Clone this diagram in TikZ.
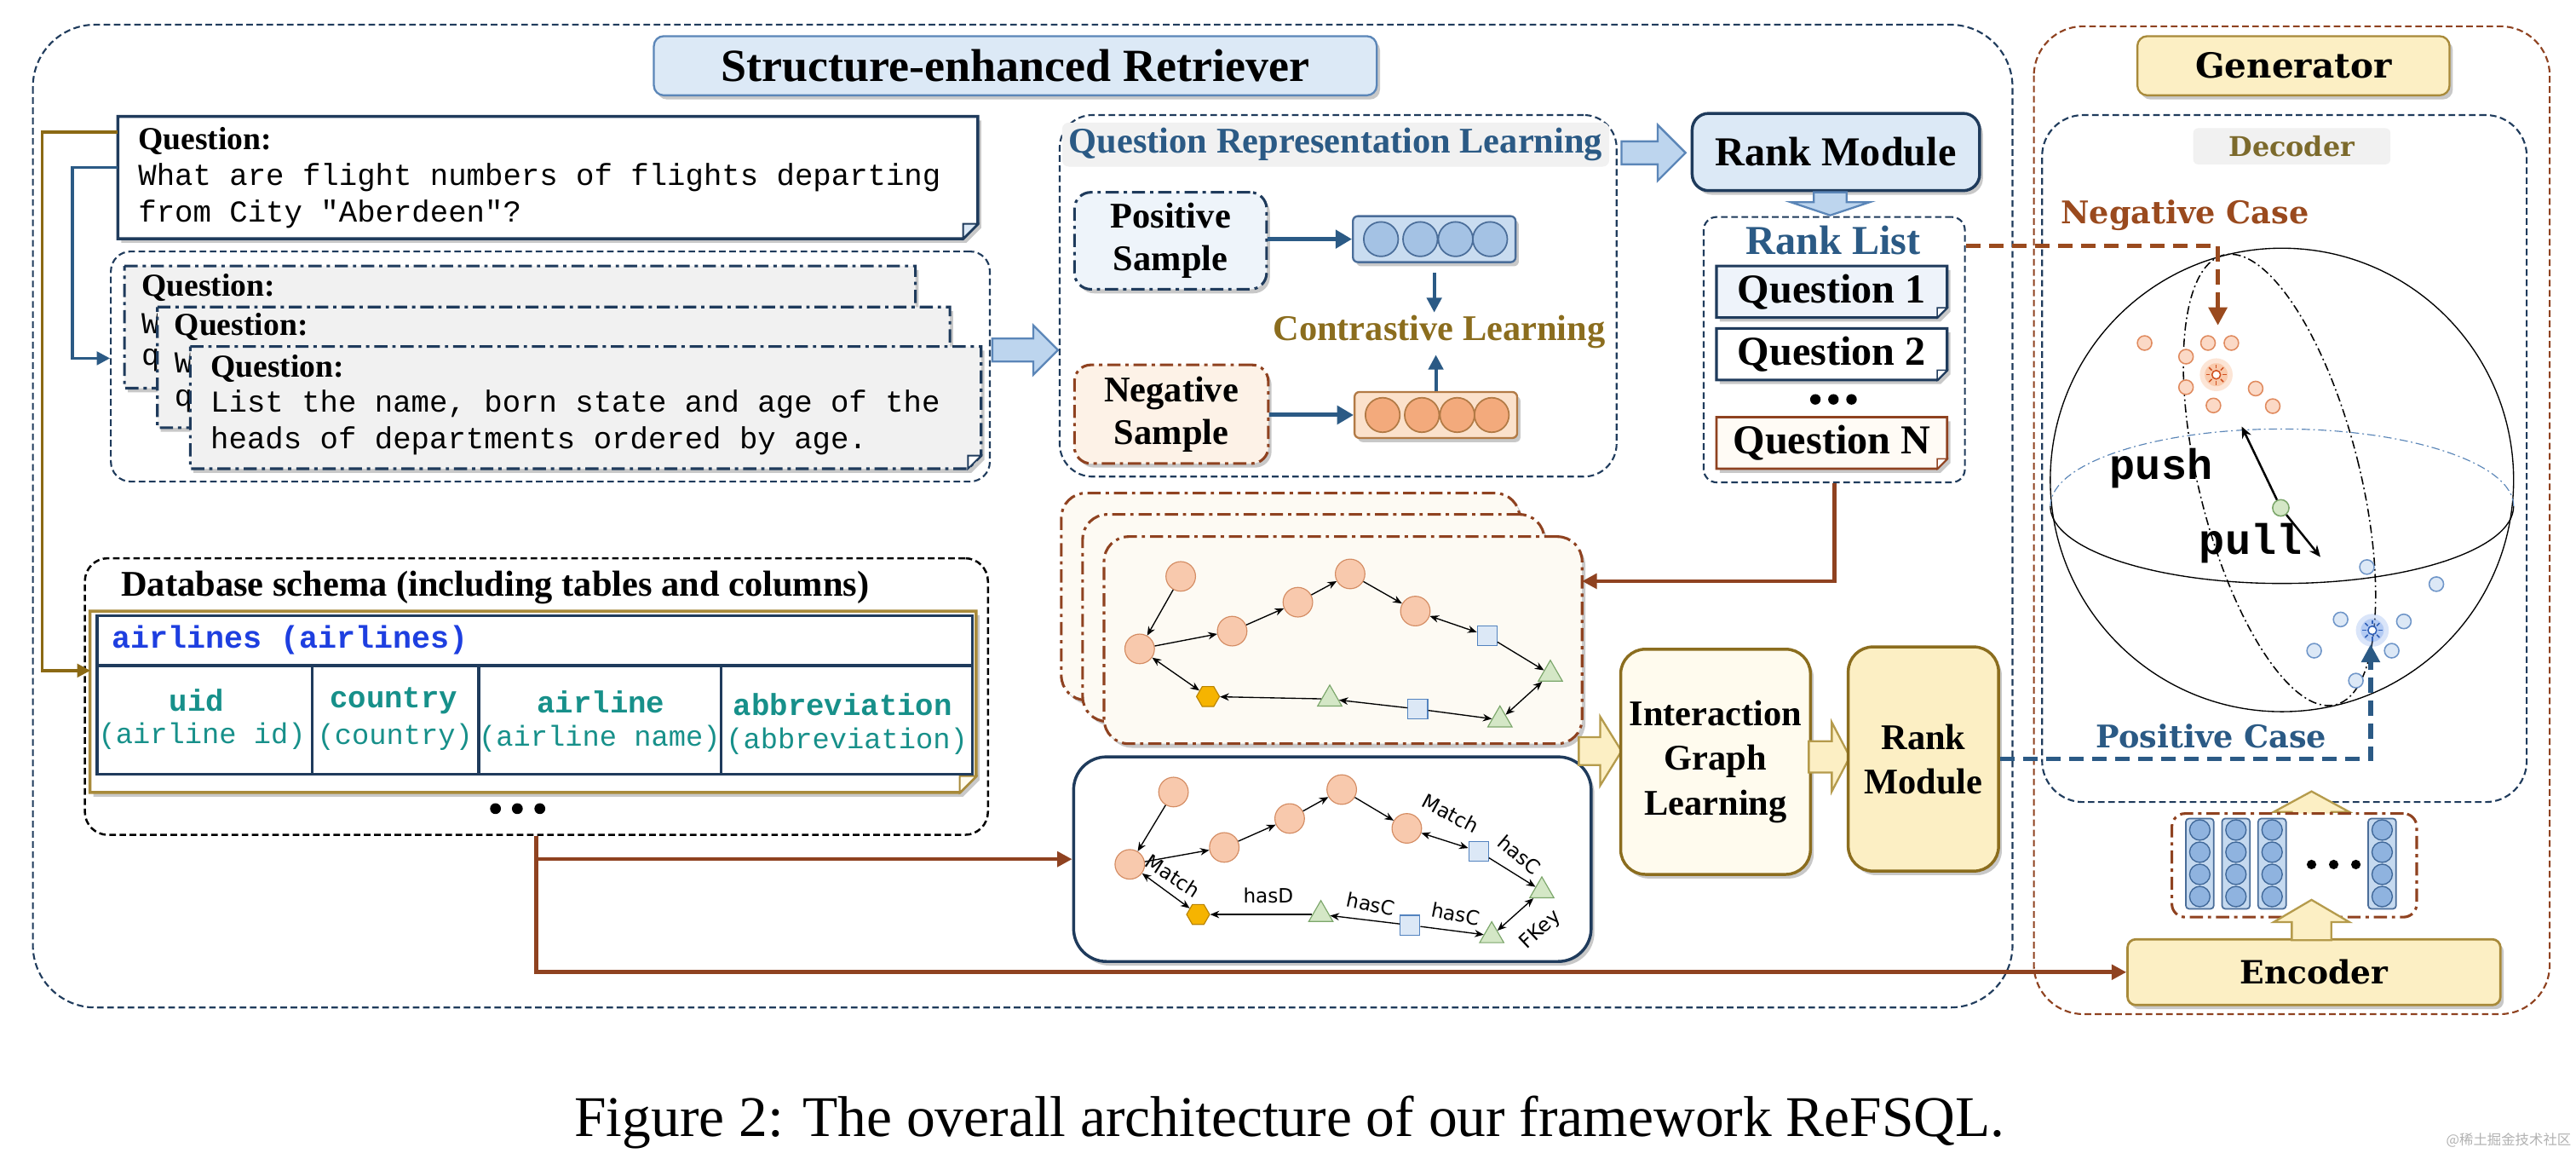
\documentclass[tikz,border=0pt]{standalone}
\usepackage{fontspec}
\setmainfont{Liberation Serif}
\newfontfamily\monof{Liberation Mono}
\newfontfamily\dserif{DejaVu Serif}
\newfontfamily\dsans{DejaVu Sans}
\newfontfamily\cjkf{Noto Sans CJK SC}
\usetikzlibrary{shapes.geometric,shadows,arrows.meta,calc}
\newcommand{\FS}[1]{\fontsize{#1}{#1}\selectfont}
\definecolor{navy}{HTML}{1F3B5C}
\definecolor{navyln}{HTML}{2B5A85}
\definecolor{lblue}{HTML}{DCE9F6}
\definecolor{brn}{HTML}{8F4220}
\definecolor{olive}{HTML}{8B6D1E}
\definecolor{goldb}{HTML}{A88A3A}
\definecolor{gline}{HTML}{8B6914}
\definecolor{tealc}{HTML}{17908A}
\definecolor{ablue}{HTML}{1E3FE0}
\definecolor{cream}{HTML}{FDFAF3}
\definecolor{ylw}{HTML}{FCEFC4}
\definecolor{ylwl}{HTML}{FFFBEE}
\definecolor{qgrey}{HTML}{F1F1F1}
\definecolor{cardf}{HTML}{F1F1F1}
\definecolor{bfatf}{HTML}{BDD5EE}
\definecolor{bfatd}{HTML}{5B86B8}
\definecolor{yfatd}{HTML}{B59B4C}
\definecolor{gcf}{HTML}{F8C9AD}
\definecolor{gcd}{HTML}{D48C63}
\definecolor{gsf}{HTML}{DCE8F6}
\definecolor{gsd}{HTML}{5383BF}
\definecolor{gtf}{HTML}{D4E7C6}
\definecolor{gtd}{HTML}{7BA66A}
\definecolor{ghf}{HTML}{F6B400}
\definecolor{ghd}{HTML}{B98400}
\definecolor{pvf}{HTML}{C9DCF0}
\definecolor{pvd}{HTML}{4A6D99}
\definecolor{pvc}{HTML}{A4C2E4}
\definecolor{nvf}{HTML}{FBE1CB}
\definecolor{nvd}{HTML}{B27A45}
\definecolor{nvc}{HTML}{F3AA7C}
\definecolor{psf}{HTML}{EEF4FA}
\definecolor{nsf}{HTML}{FDF2E7}
\definecolor{ndotf}{HTML}{FBD9C6}
\definecolor{ndotd}{HTML}{E08A5E}
\definecolor{pdotf}{HTML}{DCE8F6}
\definecolor{pdotd}{HTML}{6E95C8}
\definecolor{negc}{HTML}{9A4A1E}
\definecolor{decc}{HTML}{7C6A2C}
\definecolor{encc}{HTML}{C5D9EF}
\definecolor{encd}{HTML}{3F6798}
\definecolor{encci}{HTML}{8FB3DF}
\definecolor{qnf}{HTML}{FFFBF5}
\definecolor{q1f}{HTML}{EEF3FA}
\definecolor{sunng}{HTML}{F59A5E}
\definecolor{sunnl}{HTML}{D0501F}
\definecolor{sunpg}{HTML}{6F9BEA}
\definecolor{sunpl}{HTML}{2F5FB8}

\newcommand{\FatH}[7]{\filldraw[#7] (#1,#3-#4) -- (#2-#6,#3-#4) -- (#2-#6,#3-#5) -- (#2,#3) -- (#2-#6,#3+#5) -- (#2-#6,#3+#4) -- (#1,#3+#4) -- cycle;}
\newcommand{\FatUp}[7]{\filldraw[#7] (#1-#4,#2) -- (#1-#4,#3+#6) -- (#1-#5,#3+#6) -- (#1,#3) -- (#1+#5,#3+#6) -- (#1+#4,#3+#6) -- (#1+#4,#2) -- cycle;}
\newcommand{\FatDown}[7]{\filldraw[#7] (#1-#4,#2) -- (#1-#4,#3-#6) -- (#1-#5,#3-#6) -- (#1,#3) -- (#1+#5,#3-#6) -- (#1+#4,#3-#6) -- (#1+#4,#2) -- cycle;}
\newcommand{\NoteShape}[4]{%
  \path[#2] (#1.north west) -- (#1.north east) -- ([yshift=#3]#1.south east) -- ([xshift=-#3]#1.south east) -- (#1.south west) -- cycle;
  \filldraw[#4] ([yshift=#3]#1.south east) -- ([xshift=-#3,yshift=#3]#1.south east) -- ([xshift=-#3]#1.south east) -- cycle;}
\newcommand{\SunMark}[3]{%
  \fill[#2,opacity=0.25] #1 circle (10);
  \fill[#2,opacity=0.35] #1 circle (7);
  \draw[#3, line width=0.8pt, fill=white] #1 circle (2.6);
  \foreach \a in {0,45,...,315} \draw[#3, line width=0.8pt] #1 ++(\a:3.8) -- ++(\a:2.4);}

\tikzset{
  shd/.style={drop shadow={shadow xshift=2pt,shadow yshift=-2.5pt,opacity=0.3,fill=black!70}},
  dnavy/.style={draw=navy,line width=1.1pt,dash pattern=on 4pt off 2.2pt},
  dbrn/.style={draw=brn,line width=1.1pt,dash pattern=on 4pt off 2.2pt},
  ddnavy/.style={draw=navy,line width=1.6pt,dash pattern=on 8pt off 3pt on 2pt off 3pt},
  ddbrn/.style={draw=brn,line width=1.6pt,dash pattern=on 8pt off 3pt on 2pt off 3pt},
  bfat/.style={fill=bfatf,draw=bfatd,line width=1.2pt},
  yfat/.style={fill=ylw,draw=yfatd,line width=1.2pt},
  txt/.style={inner sep=0pt},
  qlab/.style={anchor=west,inner sep=0pt,font=\FS{19.5}\bfseries},
  mtxt/.style={anchor=west,inner sep=0pt,font=\monof\FS{18.5}},
  gc/.style={circle,minimum size=18pt,inner sep=0pt,fill=gcf,draw=gcd,line width=0.6pt},
  gs/.style={rectangle,minimum size=12pt,inner sep=0pt,fill=gsf,draw=gsd,line width=0.6pt},
  gt/.style={regular polygon,regular polygon sides=3,minimum size=17pt,inner sep=0pt,fill=gtf,draw=gtd,line width=0.6pt},
  gh/.style={regular polygon,regular polygon sides=6,minimum size=14pt,inner sep=0pt,fill=ghf,draw=ghd,line width=0.6pt},
  gedge/.style={line width=0.7pt,black,>={Stealth[length=5.5pt,width=4.5pt]}},
  elab/.style={inner sep=0pt,font=\dsans\FS{12}},
  brnline/.style={draw=brn,line width=2.4pt,-{Triangle[length=9pt,width=9pt]}},
  qarr/.style={draw=navyln,line width=2.6pt,-{Triangle[length=10pt,width=11pt]}},
  qarrv/.style={draw=navyln,line width=2pt,-{Triangle[length=9pt,width=9pt]}},
  colh/.style={inner sep=0pt,font=\monof\bfseries\FS{18.5},text=tealc},
  colp/.style={inner sep=0pt,font=\monof\FS{17.5},text=tealc},
}

\begin{document}
\begin{tikzpicture}[x=1pt,y=-1pt]
\path[use as bounding box,fill=white] (0,0) rectangle (1568,704.7);

% ---------- outer frames ----------
\draw[dnavy,rounded corners=38pt] (20,15) rectangle (1225,613);
\draw[dbrn,rounded corners=30pt] (1238,16) rectangle (1552,617);

% ---------- titles ----------
\node[draw=bfatd,fill=lblue,line width=1.2pt,rounded corners=6pt,minimum width=440pt,minimum height=36pt,shd,font=\FS{28}\bfseries] (rtitle) at (618,40) {Structure-enhanced Retriever};
\node[draw=goldb,fill=ylw,line width=1.2pt,rounded corners=6pt,minimum width=190pt,minimum height=36pt,shd,font=\dserif\FS{21}\bfseries] (gtitle) at (1396,40) {Generator};

% ---------- top question ----------
\node[minimum width=523pt,minimum height=74pt,inner sep=0pt] (qtop) at (333.5,108) {};
\NoteShape{qtop}{fill=white,draw=navy,line width=1.8pt,shd}{9pt}{fill=lblue,draw=navy,line width=1pt}
\node[qlab] at (84,86) {Question:};
\node[mtxt] at (84,108) {What are flight numbers of flights departing};
\node[mtxt] at (84,130.5) {from City "Aberdeen"?};

% ---------- question group ----------
\node[dnavy,rounded corners=12pt,minimum width=535pt,minimum height=140pt] (qgroup) at (335,223) {};
\node[minimum width=481pt,minimum height=74pt,inner sep=0pt] (c1) at (316.5,199) {};
\NoteShape{c1}{fill=cardf,ddnavy,shd}{8pt}{fill=white,draw=navy,line width=1pt}
\node[qlab] at (86,175) {Question:};
\node[mtxt] at (86,197) {W};
\node[mtxt] at (86,219) {q};
\node[minimum width=482pt,minimum height=73pt,inner sep=0pt] (c2) at (337,223.5) {};
\NoteShape{c2}{fill=cardf,ddnavy,shd}{8pt}{fill=white,draw=navy,line width=1pt}
\node[qlab] at (106,199) {Question:};
\node[mtxt] at (106,221) {W};
\node[mtxt] at (106,244) {q};
\node[minimum width=481pt,minimum height=74pt,inner sep=0pt] (c3) at (356.5,248) {};
\NoteShape{c3}{fill=cardf,ddnavy,shd}{8pt}{fill=white,draw=navy,line width=1pt}
\node[qlab] at (128,224) {Question:};
\node[mtxt] at (128,246) {List the name, born state and age of the};
\node[mtxt] at (128,268) {heads of departments ordered by age.};

\FatH{604}{644}{213}{7}{15}{15}{bfat}

% ---------- question representation learning ----------
\node[dnavy,rounded corners=20pt,minimum width=339pt,minimum height=220pt] (qrl) at (814.5,180) {};
\node[fill=qgrey,rounded corners=4pt,minimum width=333pt,minimum height=22.6pt,text=navyln,font=\FS{22}\bfseries] (qrlt) at (813,88) {Question Representation Learning};
\node[fill=psf,ddnavy,rounded corners=10pt,minimum width=117pt,minimum height=59pt,shd,align=center,font=\fontsize{22}{26}\selectfont\bfseries] (possamp) at (712.5,146.5) {Positive\\Sample};
\node[fill=nsf,ddbrn,rounded corners=10pt,minimum width=118pt,minimum height=60pt,shd,align=center,font=\fontsize{22}{26}\selectfont\bfseries] (negsamp) at (713,252) {Negative\\Sample};
\node[fill=pvf,draw=pvd,line width=1.2pt,rounded corners=3pt,minimum width=99pt,minimum height=28pt,shd] (posvec) at (873,145.5) {};
\foreach \cx in {840.6,864.5,886,907} \filldraw[fill=pvc,draw=pvd,line width=0.9pt] (\cx,145.5) circle (10.5);
\node[fill=nvf,draw=nvd,line width=1.2pt,rounded corners=3pt,minimum width=99pt,minimum height=28pt,shd] (negvec) at (874,252.5) {};
\foreach \cx in {841.6,865.5,887,908} \filldraw[fill=nvc,draw=nvd,line width=0.9pt] (\cx,252.5) circle (10.5);
\draw[qarr] (possamp.east |- posvec.west) -- (posvec.west);
\draw[qarr] (negsamp.east |- negvec.west) -- (negvec.west);
\node[txt,text=olive,font=\FS{22}\bfseries] (cl) at (876,201.7) {Contrastive Learning};
\draw[qarrv] ([yshift=-6pt]posvec.south) -- ([yshift=-30pt]posvec.south);
\draw[qarrv] (negvec.north) -- ([yshift=22pt]negvec.north);

\FatH{987}{1026}{93}{7}{17}{17}{bfat}

% ---------- rank module & rank list ----------
\node[fill=lblue,draw=navy,line width=1.8pt,rounded corners=10pt,minimum width=175pt,minimum height=47pt,shd,font=\FS{25}\bfseries] (rank1) at (1117.5,92.5) {Rank Module};
\node[dnavy,rounded corners=8pt,minimum width=159pt,minimum height=161.5pt] (ranklist) at (1116.5,212.75) {};
\FatDown{1114}{117}{131}{10}{24}{8}{bfat}
\node[txt,text=navyln,font=\FS{25}\bfseries] at (1116,146) {Rank List};
\node[minimum width=140pt,minimum height=31pt,inner sep=0pt] (q1) at (1115,177.5) {};
\NoteShape{q1}{fill=q1f,draw=navy,line width=1.6pt,shd}{6pt}{fill=white,draw=navy,line width=0.8pt}
\node[txt,font=\FS{25}\bfseries] at (q1) {Question 1};
\node[minimum width=140pt,minimum height=31pt,inner sep=0pt] (q2) at (1115,215.5) {};
\NoteShape{q2}{fill=white,draw=navy,line width=1.6pt,shd}{6pt}{fill=white,draw=navy,line width=0.8pt}
\node[txt,font=\FS{25}\bfseries] at (q2) {Question 2};
\foreach \cx in {1105,1116,1127} \fill (\cx,243) circle (3.2);
\node[minimum width=140pt,minimum height=31pt,inner sep=0pt] (qN) at (1115,269.5) {};
\NoteShape{qN}{fill=qnf,draw=brn,line width=1.4pt,shd}{6pt}{fill=white,draw=brn,line width=0.8pt}
\node[txt,font=\FS{25}\bfseries] at (qN) {Question N};

% ---------- graph stack ----------
\node[fill=cream,ddbrn,rounded corners=15pt,minimum width=279pt,minimum height=126pt,shd] (gA) at (785.5,363) {};
\node[fill=cream,ddbrn,rounded corners=15pt,minimum width=281pt,minimum height=126pt,shd] (gB) at (799.5,376) {};
\node[fill=cream,ddbrn,rounded corners=15pt,minimum width=291pt,minimum height=126pt,shd] (gC) at (817.5,389.5) {};

\node[gc] (u1) at (718.7,350.7) {};
\node[gc] (u2) at (693.7,394.8) {};
\node[gc] (u3) at (750,384) {};
\node[gc] (u4) at (790,366.4) {};
\node[gc] (u5) at (821.8,349.2) {};
\node[gc] (u6) at (861.5,371.8) {};
\node[gs] (us1) at (905.2,386.8) {};
\node[gt] (ut1) at (943.7,410.2) {};
\node[gt] (ut2) at (913,438) {};
\node[gs] (us2) at (863,431.4) {};
\node[gt] (ut3) at (809.4,425.3) {};
\node[gh] (uh) at (735.3,423.8) {};
\draw[gedge,->] (u1) -- (u2);
\draw[gedge,->] (u2) -- (u3);
\draw[gedge,->] (u3) -- (u4);
\draw[gedge,->] (u4) -- (u5);
\draw[gedge,->] (u5) -- (u6);
\draw[gedge,<->] (u6) -- (us1);
\draw[gedge,->] (us1) -- (ut1);
\draw[gedge,<->] (ut1) -- (ut2);
\draw[gedge,->] (us2) -- (ut2);
\draw[gedge,->] (us2) -- (ut3);
\draw[gedge,->] (ut3) -- (uh);
\draw[gedge,<->] (uh) -- (u2);

% ---------- lower graph ----------
\node[fill=white,draw=navy,line width=1.8pt,rounded corners=20pt,minimum width=315pt,minimum height=124.5pt,shd] (gL) at (811,522.75) {};
\node[gc] (l1) at (714.3,481.9) {};
\node[gc] (l2) at (687.7,525.9) {};
\node[gc] (l3) at (745.2,515.6) {};
\node[gc] (l4) at (785,498) {};
\node[gc] (l5) at (816.7,480.4) {};
\node[gc] (l6) at (856.3,504) {};
\node[gs] (ls1) at (900,518) {};
\node[gt] (lt1) at (938.5,542) {};
\node[gt] (lt2) at (908,569.3) {};
\node[gs] (ls2) at (858.3,562.9) {};
\node[gt] (lt3) at (804,556.4) {};
\node[gh] (lh) at (729.3,556.4) {};
\draw[gedge,->] (l1) -- (l2);
\draw[gedge,->] (l2) -- (l3);
\draw[gedge,->] (l3) -- (l4);
\draw[gedge,->] (l4) -- (l5);
\draw[gedge,->] (l5) -- (l6);
\draw[gedge,<->] (l6) -- (ls1);
\draw[gedge,->] (ls1) -- (lt1);
\draw[gedge,<->] (lt1) -- (lt2);
\draw[gedge,->] (ls2) -- (lt2);
\draw[gedge,->] (ls2) -- (lt3);
\draw[gedge,->] (lt3) -- (lh);
\draw[gedge,<->] (lh) -- (l2);
\node[elab,rotate=-28] at (883,495) {Match};
\node[elab,rotate=-40] at (925,520) {hasC};
\node[elab,rotate=43] at (938,566) {FKey};
\node[elab,rotate=-11] at (886,556) {hasC};
\node[elab,rotate=-12] at (834.5,550) {hasC};
\node[elab] at (772,545) {hasD};
\node[elab,rotate=-33] at (714,533) {Match};

% ---------- interaction graph learning & rank module 2 ----------
\FatH{961}{987}{457}{8.5}{21}{13}{yfat}
\node[fill=ylwl,draw=olive,line width=1.8pt,rounded corners=15pt,minimum width=115.5pt,minimum height=137pt,shd,align=center,font=\fontsize{22}{27}\selectfont\bfseries] (igl) at (1044.25,463.5) {Interaction\\Graph\\Learning};
\FatH{1101}{1126}{460.5}{9.5}{21}{11}{yfat}
\node[fill=ylw,draw=olive,line width=1.8pt,rounded corners=15pt,minimum width=91.5pt,minimum height=136.4pt,shd,align=center,font=\fontsize{22}{27}\selectfont\bfseries] (rank2) at (1170.75,461.8) {Rank\\Module};

% ---------- database schema ----------
\node[draw=black,line width=1.3pt,dash pattern=on 4pt off 2.2pt,rounded corners=14pt,minimum width=549.7pt,minimum height=168.3pt] (schema) at (326.5,423.8) {};
\node[anchor=west,inner sep=0pt,font=\FS{22}\bfseries] at (73.6,357.3) {Database schema (including tables and columns)};
\node[minimum width=539pt,minimum height=110pt,inner sep=0pt] (tabframe) at (324.5,427) {};
\NoteShape{tabframe}{fill=white,draw=goldb,line width=1.8pt,shd}{10pt}{fill=ylwl,draw=goldb,line width=1pt}
\draw[navy,line width=1.8pt,fill=white] (59,374.5) rectangle (592,471);
\draw[navy,line width=1.8pt] (59,405) -- (592,405);
\foreach \cx in {190,291.4,438.9} \draw[navy,line width=1.8pt] (\cx,405) -- (\cx,471);
\node[anchor=west,inner sep=0pt,font=\monof\bfseries\FS{19},text=ablue] at (68,389.5) {airlines (airlines)};
\node[colh] at (119.8,426) {uid};
\node[colh] at (239.7,426.5) {country};
\node[colh] at (365.8,427) {airline};
\node[colh] at (513,428.5) {abbreviation};
\node[colp] at (123,448) {(airline id)};
\node[colp] at (240.5,448.5) {(country)};
\node[colp] at (365,449.5) {(airline name)};
\node[colp] at (515.5,451) {(abbreviation)};
\foreach \cx in {301.6,314.9,328.6} \fill (\cx,492) circle (3.3);

% ---------- generator side ----------
\node[dnavy,rounded corners=25pt,minimum width=295pt,minimum height=418pt] (decoder) at (1390.5,279) {};
\node[fill=qgrey,rounded corners=3pt,minimum width=120pt,minimum height=22pt,text=decc,font=\dserif\FS{16.5}\bfseries] (declab) at (1395,89) {Decoder};
\node[txt,text=negc,font=\dserif\FS{19}\bfseries] at (1330,131) {Negative Case};
\node[txt,text=navyln,font=\dserif\FS{19}\bfseries] at (1346,448) {Positive Case};

% sphere
\coordinate (sph) at (1389,292);
\draw[black,line width=0.7pt] (sph) circle (141);
\draw[black,line width=0.7pt] (1530,308) arc[start angle=0,end angle=180,x radius=141,y radius=47];
\draw[bfatd,line width=0.6pt,dash pattern=on 5pt off 2pt on 1pt off 2pt] (1530,308) arc[start angle=0,end angle=-180,x radius=141,y radius=47];
\draw[black,line width=0.8pt,dash pattern=on 5pt off 2pt on 1pt off 2pt,rotate around={14:(1387.5,292)}] (1387.5,292) ellipse [x radius=49,y radius=141];

\foreach \p in {(1305.4,208.7),(1330.6,217),(1344,208.7),(1358.2,208.7),(1330.6,235.6),(1347.3,246.7),(1373,236.4),(1383.4,247.1)}
  \filldraw[fill=ndotf,draw=ndotd,line width=0.8pt] \p circle (4.4);
\SunMark{(1349,228)}{sunng}{sunnl}
\foreach \p in {(1440.7,345),(1483,355.4),(1424.7,376.9),(1463.2,378.1),(1455.8,395.9),(1408.6,395.9),(1434,414.1)}
  \filldraw[fill=pdotf,draw=pdotd,line width=0.8pt] \p circle (4.4);
\SunMark{(1444,383.5)}{sunpg}{sunpl}

\node[circle,minimum size=10pt,inner sep=0pt,fill=gtf,draw=gtd,line width=0.8pt] (gdot) at (1388.3,309) {};
\coordinate (pushtip) at (1364.5,259.5);
\coordinate (pulltip) at (1412.4,338.9);
\draw[line width=1.3pt,-{Stealth[length=7pt,width=6pt]}] (gdot) -- (pushtip);
\draw[line width=1.3pt,-{Stealth[length=7pt,width=6pt]}] (gdot) -- (pulltip);
\node[txt,font=\monof\bfseries\FS{26}] at (1315.5,285) {push};
\node[txt,font=\monof\bfseries\FS{26}] at (1370,330.6) {pull};

% encoder
\FatUp{1407}{502}{481.5}{12}{23}{12.5}{yfat}
\node[fill=white,ddbrn,rounded corners=8pt,minimum width=149pt,minimum height=63pt] (encvec) at (1396.5,526.5) {};
\foreach \cx in {1339,1361,1383,1450} {
  \filldraw[fill=encc,draw=pvd,line width=0.9pt,rounded corners=2pt] (\cx-8.5,498) rectangle (\cx+8.5,553);
  \foreach \cy in {505,518.5,532,545.5} \filldraw[fill=encci,draw=encd,line width=0.7pt] (\cx,\cy) circle (6.2);
}
\foreach \cx in {1407,1420.5,1434} \fill (\cx,526) circle (2.9);
\node[fill=ylw,draw=goldb,line width=1.4pt,rounded corners=5pt,minimum width=227pt,minimum height=40pt,shd,font=\dserif\FS{19.5}\bfseries] (encoder) at (1408.5,591.5) {Encoder};
\FatUp{1407}{572}{547.5}{12}{23}{13.5}{yfat}

% ---------- connectors ----------
\coordinate (gq) at ([yshift=27.6pt]qtop.west);
\coordinate (gcorner) at (25.6,80.4);
\coordinate (gt) at (55,408);
\draw[gline,line width=1.8pt,-{Triangle[length=8pt,width=8pt]}] (gq) -- (gcorner) |- (gt);
\coordinate (bq) at ([yshift=6pt]qtop.west);
\coordinate (bcorner) at (44,102);
\draw[navyln,line width=1.8pt,-{Triangle[length=8pt,width=8pt]}] (bq) -- (bcorner) |- ([yshift=5pt]qgroup.west);

\coordinate (gCin) at (963,353.6);
\draw[brnline] (ranklist.south) |- (gCin);
\draw[brnline] (schema.south) |- (encoder.west);
\draw[brnline] (schema.south |- gL.west) -- (gL.west);

\coordinate (negtip) at (1350,198);
\draw[negc,line width=2.8pt,dash pattern=on 9pt off 5pt,-{Triangle[length=11pt,width=11pt]}] ([yshift=-18pt]ranklist.north east) -| (negtip);
\coordinate (postip) at (1443,392);
\draw[navyln,line width=2.8pt,dash pattern=on 9pt off 5pt,-{Triangle[length=11pt,width=11pt]}] (rank2.east) -| (postip);

% ---------- caption ----------
\node[font=\FS{35}] (cap) at (785,683) {Figure 2: The overall architecture of our framework ReFSQL.};
\node[text=gray!60,font=\cjkf\FS{8.5}] (wm) at (1527,694) {@稀土掘金技术社区};
\end{tikzpicture}
\end{document}
